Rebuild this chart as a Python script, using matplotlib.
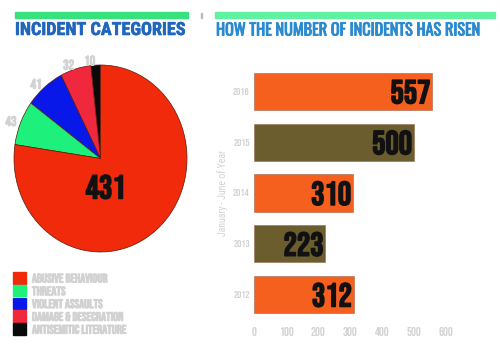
import matplotlib
matplotlib.use("Agg")
import matplotlib.pyplot as plt
import matplotlib.patheffects as pe
from matplotlib.patches import Rectangle

# ---- data ----
pie_categories = ["ANTISEMITIC LITERATURE", "DAMAGE & DESECRATION", "VIOLENT ASSAULTS", "THREATS", "ABUSIVE BEHAVIOUR"]
pie_values = [10, 32, 41, 43, 431]
pie_colors = ["#0a0a0a", "#f0283e", "#0818e8", "#1ef07c", "#f02a0a"]
legend_order = ["ABUSIVE BEHAVIOUR", "THREATS", "VIOLENT ASSAULTS", "DAMAGE & DESECRATION", "ANTISEMITIC LITERATURE"]

years = ["2016", "2015", "2014", "2013", "2012"]
incidents = [557, 500, 310, 223, 312]
bar_colors = ["#f5601e", "#6c5d2f", "#f5601e", "#6c5d2f", "#f5601e"]
x_ticks = [0, 100, 200, 300, 400, 500, 600]

NUM = ["Bebas Neue", "Anton", "DejaVu Sans"]
TITLE = ["Roboto Condensed", "DejaVu Sans"]
TITLE2 = ["Oswald", "Roboto Condensed", "DejaVu Sans"]
GREY = "#d2d2d2"

W, H = 500, 359
fig = plt.figure(figsize=(W / 100, H / 100), dpi=100)
fig.patch.set_facecolor("white")
renderer = fig.canvas.get_renderer()

def ax_px(x0, y0, x1, y1):
    return fig.add_axes([x0 / W, 1 - y1 / H, (x1 - x0) / W, (y1 - y0) / H])

def fit_width(t, target_px):
    w = t.get_window_extent(renderer).width
    t.set_fontsize(t.get_fontsize() * target_px / w)

def bold(c, lw):
    return [pe.withStroke(linewidth=lw, foreground=c)]

# ---- header bars & titles ----
fig.patches.append(Rectangle((15 / W, 1 - 18 / H), 173 / W, 6 / H, transform=fig.transFigure,
                             color="#35e27c", zorder=1))
fig.patches.append(Rectangle((215 / W, 1 - 18 / H), 280 / W, 6 / H, transform=fig.transFigure,
                             color="#5ef2a2", zorder=1))
fig.patches.append(Rectangle((201 / W, 1 - 18 / H), 1.2 / W, 5 / H, transform=fig.transFigure,
                             color="#bbbbbb", zorder=1))
t1 = fig.text(15 / W, 1 - 30 / H, "INCIDENT CATEGORIES", family=TITLE, weight="bold",
              fontsize=13, color="#1f66bd", va="center", ha="left",
              path_effects=bold("#1f66bd", 0.4))
fit_width(t1, 170)
t2 = fig.text(216 / W, 1 - 30 / H, "HOW THE NUMBER OF INCIDENTS HAS RISEN", family=TITLE2, weight="bold",
              fontsize=13, color="#2a8ad0", va="center", ha="left",
              path_effects=bold("#2a8ad0", 0.6))
fit_width(t2, 264)

# ---- pie ----
pax = ax_px(14, 65, 187, 252)
wedges, texts = pax.pie(pie_values, colors=pie_colors, startangle=90, counterclock=True,
                        labels=[str(v) for v in pie_values[:-1]] + [""], labeldistance=1.05,
                        wedgeprops=dict(edgecolor="#5a1a08", linewidth=0.5),
                        textprops=dict(family=NUM, fontsize=10, color=GREY,
                                       path_effects=bold(GREY, 0.6)))
pax.set_aspect("auto")
pax.set_xlim(-1, 1)
pax.set_ylim(-1, 1)
pax.text(0.06, -0.3, str(pie_values[-1]), family=NUM, fontsize=24,
         color="#111111", ha="center", va="center", path_effects=bold("#111111", 1.0))

# ---- legend ----
for i, name in enumerate(legend_order):
    c = pie_colors[pie_categories.index(name)]
    y0 = 272 + i * 12.8
    fig.patches.append(Rectangle((13 / W, 1 - (y0 + 11.5) / H), 13 / W, 11.5 / H,
                                 transform=fig.transFigure, color=c))
    fig.text(32 / W, 1 - (y0 + 6) / H, name, family=NUM, fontsize=9,
             color=GREY, va="center", ha="left", path_effects=bold(GREY, 0.6))

# ---- bar chart ----
bax = ax_px(254, 66, 446, 320)
ypos = list(range(len(years)))
bax.barh(ypos, incidents, height=0.73, color=bar_colors, edgecolor="#9a6a4a", linewidth=0.4)
bax.set_ylim(len(years) - 0.5, -0.5)
bax.set_xlim(0, 600)
bax.set_xticks(x_ticks)
bax.set_xticklabels([str(t) for t in x_ticks], family=NUM, fontsize=9, color=GREY)
bax.set_yticks(ypos)
bax.set_yticklabels(years, family=NUM, fontsize=7.5, color=GREY)
bax.tick_params(axis="y", length=0, pad=3)
bax.tick_params(axis="x", length=0, pad=5)
for s in bax.spines.values():
    s.set_visible(False)
for y, v in zip(ypos, incidents):
    bax.text(v - 6, y, str(v), family=NUM, fontsize=24, color="#111111",
             ha="right", va="center", path_effects=bold("#111111", 1.0))
bax.set_ylabel("January - June of Year", family=TITLE, fontsize=7, color=GREY, labelpad=4)

fig.savefig("out.png", dpi=100, facecolor="white")
